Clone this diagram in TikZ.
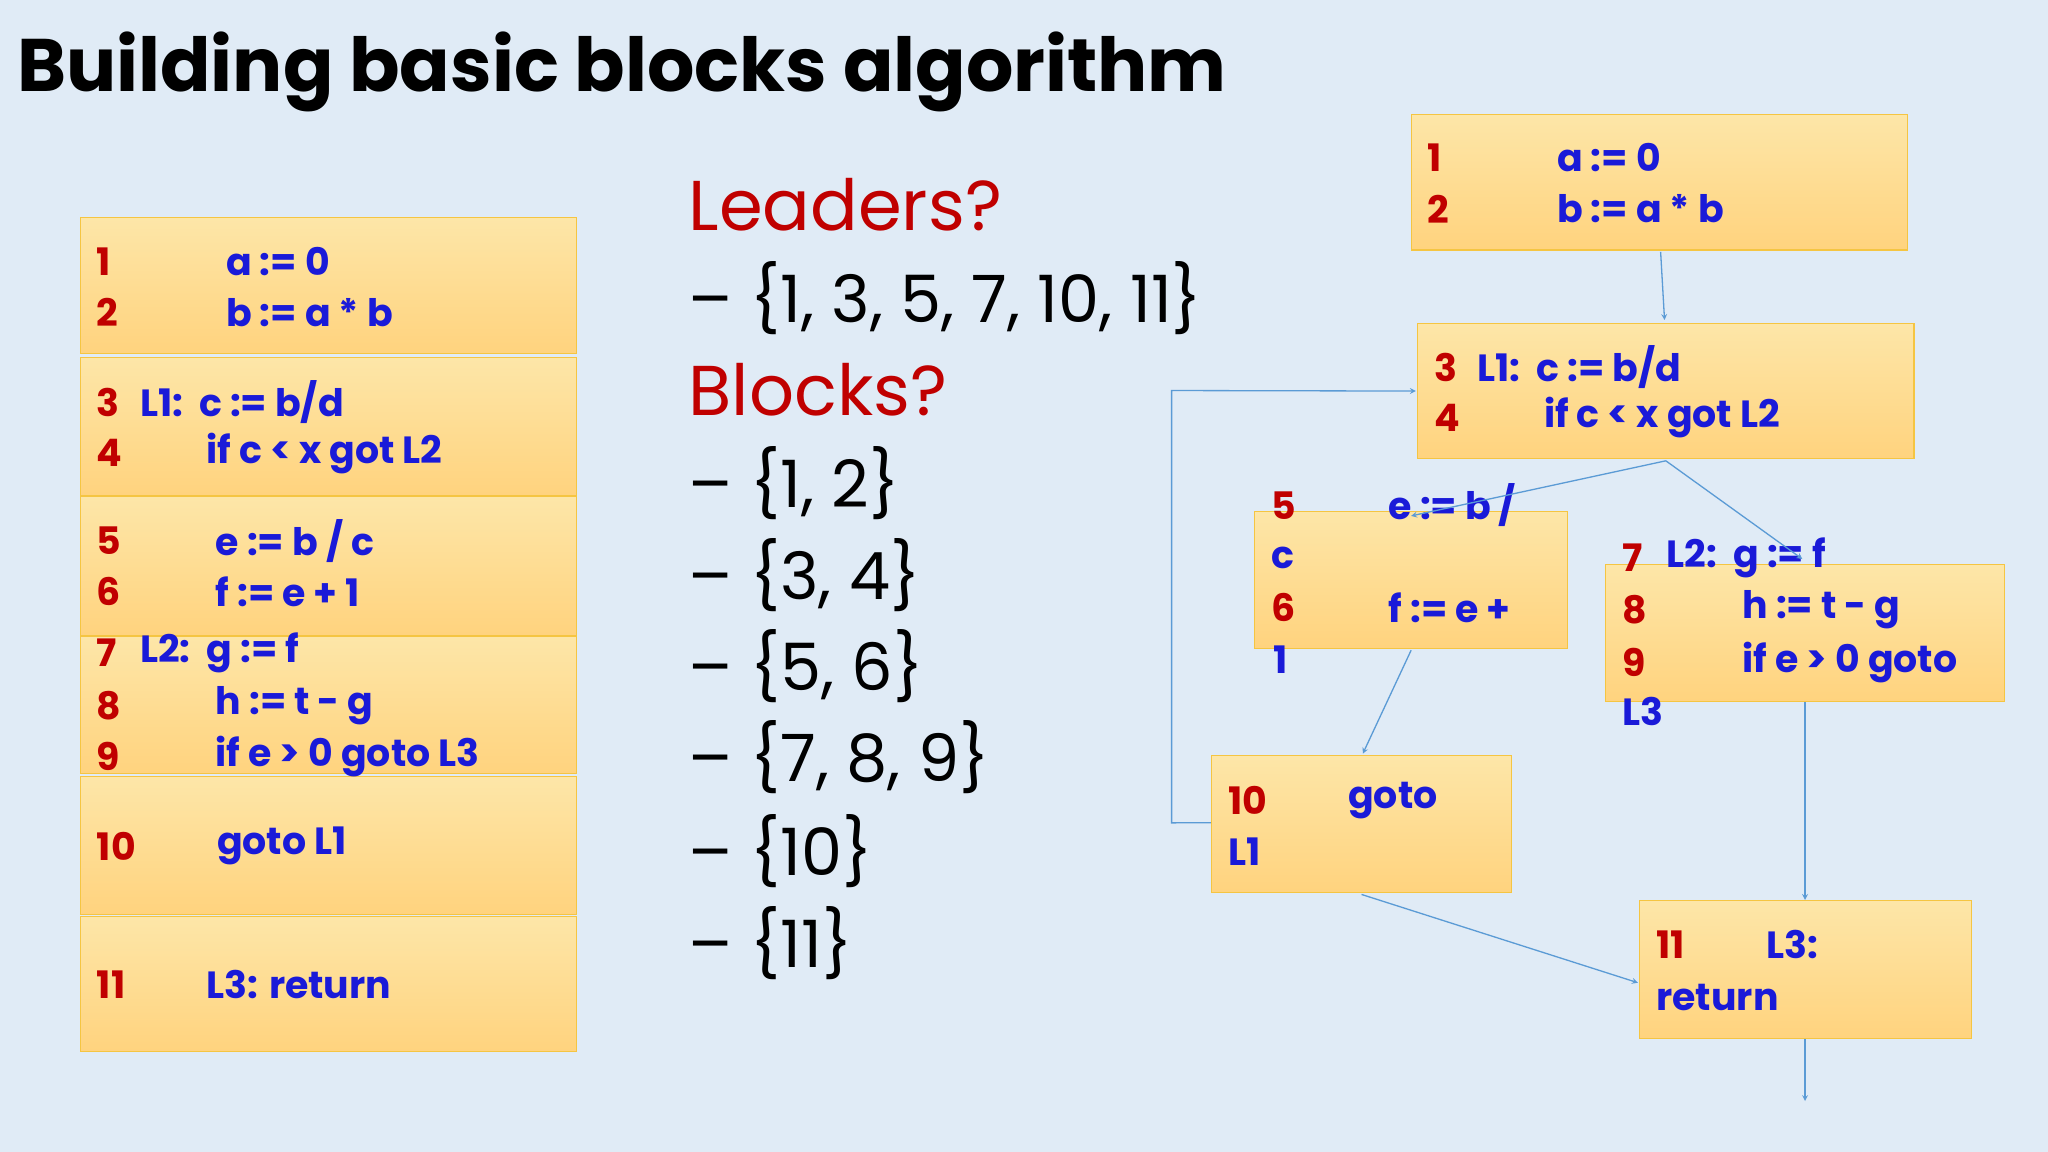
\documentclass[tikz,border=0pt]{standalone}
\usepackage{fontspec}
\newfontfamily\codefont{Poppins}
\newfontfamily\titlefont{Poppins}
\usetikzlibrary{calc}
\definecolor{bg}{HTML}{E0EBF6}
\definecolor{boxtop}{HTML}{FDE6A8}
\definecolor{boxbot}{HTML}{FFD37E}
\definecolor{boxline}{HTML}{F5C542}
\definecolor{nred}{HTML}{C00000}
\definecolor{cblue}{HTML}{1A1AD8}
\definecolor{arr}{HTML}{5B9BD5}
\tikzset{
  blk/.style={draw=boxline,line width=0.8pt,top color=boxtop,bottom color=boxbot,inner sep=0,anchor=north west},
  num/.style={anchor=west,inner sep=0,text=nred,font=\codefont\bfseries\fontsize{29}{32}\selectfont},
  code/.style={anchor=west,inner sep=0,text=cblue,font=\codefont\bfseries\fontsize{29}{32}\selectfont},
  big/.style={anchor=west,inner sep=0,font=\codefont\fontsize{50}{56}\selectfont},
  head/.style={anchor=west,inner sep=0,text=nred,font=\codefont\fontsize{54}{60}\selectfont},
  con/.style={draw=arr,line width=1pt,-stealth},
}
\begin{document}
\begin{tikzpicture}[x=1pt,y=-1pt]
\fill[bg] (0,0) rectangle (1568,882);
\useasboundingbox (0,0) rectangle (1568,882);
\node[anchor=west,inner sep=0,font=\titlefont\bfseries\fontsize{57}{64}\selectfont] (title) at (13,55) {Building basic blocks algorithm};
% left column
\foreach \n/\ya/\yb in {l1/166/270,l2/273/379,l3/380/486,l4/487/592,l5/594/700,l6/701/805}{
  \node[blk,minimum width=380pt,minimum height={(\yb-\ya)*1pt}] (\n) at (61,\ya) {};}
\node[num] (ln1) at (74,200) {1}; \node[code] (lc1) at (173,200) {a := 0};
\node[num] (ln2) at (74,239) {2}; \node[code] (lc2) at (173,239) {b := a * b};
\node[num] (ln3) at (74,308) {3}; \node[code] (lc3) at (107,308) {L1:\ \ c := b/d};
\node[num] (ln4) at (74,347) {4}; \node[code] (lc4) at (158,347) {if c < x got L2};
\node[num] (ln5) at (74,414) {5}; \node[code] (lc5) at (165,414) {e := b / c};
\node[num] (ln6) at (74,453) {6}; \node[code] (lc6) at (165,453) {f := e + 1};
\node[num] (ln7) at (74,500) {7}; \node[code] (lc7) at (107,500) {L2:\ \ g := f};
\node[num] (ln8) at (74,540) {8}; \node[code] (lc8) at (165,540) {h := t - g};
\node[num] (ln9) at (74,579) {9}; \node[code] (lc9) at (165,579) {if e > 0 goto L3};
\node[num] (ln10) at (74,648) {10}; \node[code] (lc10) at (166,648) {goto L1};
\node[num] (ln11) at (74,754) {11}; \node[code] (lc11) at (158,754) {L3: return};
% middle
\node[head] (lead) at (527,157) {Leaders?};
\node[big] (ls) at (527,228) {– \{1, 3, 5, 7, 10, 11\}};
\node[head] (blks) at (527,298) {Blocks?};
\node[big] (b1t) at (527,370) {– \{1, 2\}};
\node[big] (b2t) at (527,440) {– \{3, 4\}};
\node[big] (b3t) at (527,510) {– \{5, 6\}};
\node[big] (b4t) at (527,580) {– \{7, 8, 9\}};
\node[big] (b5t) at (527,652) {– \{10\}};
\node[big] (b6t) at (527,722) {– \{11\}};
% right graph
\node[blk,minimum width=380pt,minimum height=104pt] (r1) at (1080,87) {};
\node[blk,minimum width=380pt,minimum height=104pt] (r2) at (1085,247) {};
\node[blk,minimum width=240pt,minimum height=105pt] (r3) at (960,391) {};
\node[blk,minimum width=305pt,minimum height=105pt] (r4) at (1229,432) {};
\node[blk,minimum width=230pt,minimum height=105pt] (r5) at (927,578) {};
\node[blk,minimum width=254pt,minimum height=106pt] (r6) at (1255,689) {};
\node[num] (rn1) at (1093,121) {1}; \node[code] (rc1) at (1192,121) {a := 0};
\node[num] (rn2) at (1093,160) {2}; \node[code] (rc2) at (1192,160) {b := a * b};
\node[num] (rn3) at (1098,281) {3}; \node[code] (rc3) at (1131,281) {L1:\ \ c := b/d};
\node[num] (rn4) at (1098,320) {4}; \node[code] (rc4) at (1182,320) {if c < x got L2};
\node[num] (rn5) at (973,387) {5}; \node[code] (rc5) at (1063,387) {e := b /};
\node[code] (rc5b) at (973,427) {c};
\node[num] (rn6) at (973,465) {6}; \node[code] (rc6) at (1063,465) {f := e +};
\node[code] (rc6b) at (975,505) {1};
\node[num] (rn7) at (1242,427) {7}; \node[code] (rc7) at (1276,427) {L2:\ \ g := f};
\node[num] (rn8) at (1242,467) {8}; \node[code] (rc8) at (1334,467) {h := t - g};
\node[num] (rn9) at (1242,507) {9}; \node[code] (rc9) at (1334,507) {if e > 0 goto};
\node[code] (rc9b) at (1242,545) {L3};
\node[num] (rn10) at (940,613) {10}; \node[code] (rc10) at (1032,613) {goto};
\node[code] (rc10b) at (940,652) {L1};
\node[num] (rn11) at (1268,723) {11}; \node[code] (rc11) at (1352,723) {L3:};
\node[code] (rc11b) at (1268,764) {return};
\coordinate (exit) at (1382,843);
% connectors
\draw[con] ($(r1.south)+(1,1)$) -- ($(r2.north)+(-1,-2)$);
\draw[con] ($(r2.south)+(0,1)$) -- ($(r3.north)+(0,4)$);
\draw[con] ($(r2.south)+(0,1)$) -- ($(r4.north)+(-2,-4)$);
\draw[con] ($(r3.south)+(0,1)$) -- ($(r5.north)+(1,-1)$);
\draw[con] (r4.south -| exit) -- (r6.north -| exit);
\draw[con] ($(r5.south)+(0,1)$) -- ($(r6.west)+(-1,10)$);
\draw[con] ($(r5.west)+(0,-1)$) -- (897,630) -- (897,299) -- ($(r2.west)+(-1,0)$);
\draw[con] (r6.south -| exit) -- (exit);
\end{tikzpicture}
\end{document}
